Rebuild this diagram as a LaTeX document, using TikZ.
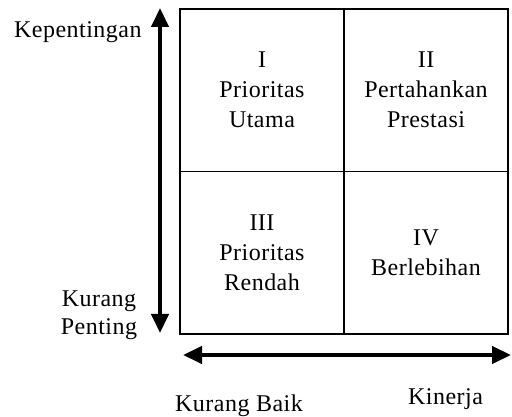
\documentclass[tikz,border=0pt]{standalone}
\usepackage{fontspec}
\setmainfont{Liberation Serif}[LetterSpace=2]
\usetikzlibrary{arrows.meta,positioning}

\begin{document}
\begin{tikzpicture}[x=0.5pt, y=0.5pt,
  cell/.style={draw, line width=0.65pt, outer sep=0pt, inner sep=0pt, minimum width=82pt, minimum height=81.25pt, align=center, font=\fontsize{12}{15}\selectfont},
  axis/.style={line width=2.2pt, {Triangle[length=9.5pt,width=8.5pt]}-{Triangle[length=9.5pt,width=8.5pt]}},
  lbl/.style={inner sep=0pt, align=center, font=\fontsize{12}{13.75}\selectfont},
]
\useasboundingbox (0,0) rectangle (512,416);

% quadrants
\node[cell] (q1) at (262,325.75) {I\\Prioritas\\Utama};
\node[cell, right=0pt of q1] (q2) {II\\Pertahankan\\Prestasi};
\node[cell, below=0pt of q1] (q3) {III\\Prioritas\\Rendah};
\node[cell, below=0pt of q2] (q4) {IV\\Berlebihan};

% axes
\coordinate (vlow) at (160,83);
\coordinate (vhigh) at (160,408);
\coordinate (hlow) at (183,61);
\coordinate (hhigh) at (511,61);
\draw[axis] (vlow) -- (vhigh);
\draw[axis] (hlow) -- (hhigh);

% axis labels
\node[lbl, anchor=base east] (imp) at (142,378.5) {Kepentingan};
\node[lbl] (lowimp) at (99,101) {Kurang\\Penting};
\node[lbl, anchor=base] (lowperf) at (239,4.5) {Kurang Baik};
\node[lbl, anchor=base] (perf) at (445.5,11) {Kinerja};
\end{tikzpicture}
\end{document}
